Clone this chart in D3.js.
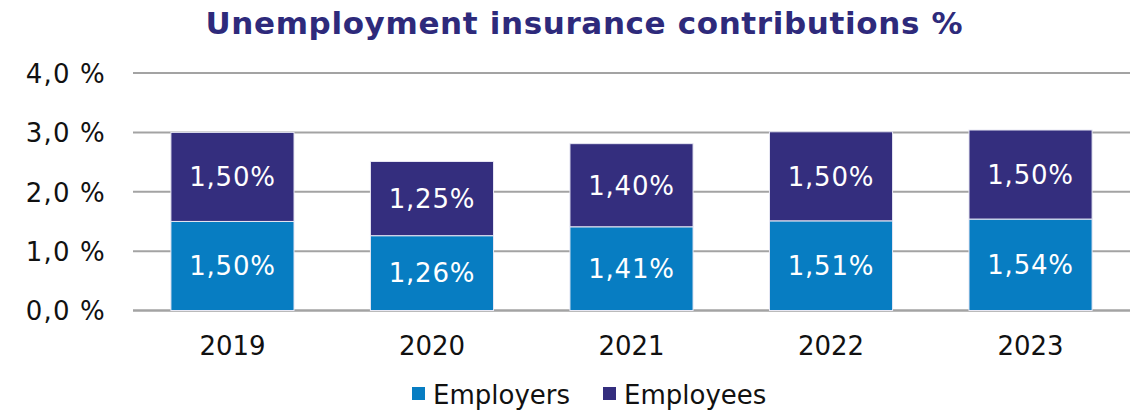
<!DOCTYPE html>
<html><head><meta charset="utf-8">
<script src="https://cdn.jsdelivr.net/npm/d3@7"></script>
<style>
html,body{margin:0;padding:0;background:#fff;}
svg{display:block;font-family:Verdana,"DejaVu Sans",sans-serif;}
</style></head>
<body>
<svg id="chart" width="1132" height="411"></svg>
<script>
const years = ["2019","2020","2021","2022","2023"];
const employers = [1.50, 1.26, 1.41, 1.51, 1.54];
const employees = [1.50, 1.25, 1.40, 1.50, 1.50];
const seriesNames = ["Employers","Employees"];
const seriesColors = ["#077dc2","#342e7e"];
const yTicks = [0,1,2,3,4];
const titleText = "Unemployment insurance contributions %";

const svg = d3.select("#chart");
const x = d3.scaleBand().domain(years).range([133,1130]).paddingInner(0.383).paddingOuter(0.19);
const y = d3.scaleLinear().domain([0,4]).range([310.5,73]);
const fmtTick = v => d3.format(".1f")(v).replace(".",",") + " %";
const fmtVal = v => d3.format(".2f")(v).replace(".",",") + "%";
const FONT = 'Verdana,"DejaVu Sans",sans-serif';

// title: keep glyph height, fit width with letter-spacing
const t = svg.append("text").attr("x",584).attr("y",34).attr("text-anchor","middle")
  .attr("fill","#2e2a7b").attr("font-weight","bold").attr("font-size",31).text(titleText);
const tw = t.node().getComputedTextLength();
if (tw > 0) {
  const ls = (757 - tw) / (titleText.length - 1);
  t.attr("letter-spacing", ls).attr("x", 584 + ls/2);
}

// y axis labels
const yAxis = d3.axisLeft(y).tickValues(yTicks).tickFormat(fmtTick).tickSize(0).tickPadding(0);
const gy = svg.append("g").attr("transform","translate(106,0)").call(yAxis);
gy.select(".domain").remove();
gy.selectAll("text").attr("font-size",26).attr("fill","#111").attr("font-family",FONT)
  .attr("dy","0.36em").attr("letter-spacing",1.2);

// gridlines
svg.append("g").selectAll("line").data(yTicks).join("line")
  .attr("x1",133).attr("x2",1130).attr("y1",d=>y(d)).attr("y2",d=>y(d))
  .attr("stroke","#a3a3a3").attr("stroke-width",d=>d===0?2.5:2);

// stacked bars
const rows = years.map((yr,i)=>({year:yr, Employers:employers[i], Employees:employees[i]}));
const stack = d3.stack().keys(seriesNames)(rows);
const g = svg.append("g");
stack.forEach((s,si)=>{
  g.append("g").selectAll("rect").data(s).join("rect")
    .attr("x",d=>x(d.data.year)).attr("width",x.bandwidth())
    .attr("y",d=>y(d[1])).attr("height",d=>y(d[0])-y(d[1]))
    .attr("fill",seriesColors[si]).attr("stroke","#e8e8f4").attr("stroke-width",1);
  g.append("g").selectAll("text").data(s).join("text")
    .attr("x",d=>x(d.data.year)+x.bandwidth()/2).attr("y",d=>(y(d[0])+y(d[1]))/2)
    .attr("dy","0.36em").attr("text-anchor","middle").attr("fill","#fff").attr("font-size",26)
    .attr("letter-spacing",0.8)
    .text(d=>fmtVal(d[1]-d[0]));
});

// x axis labels
const xAxis = d3.axisBottom(x).tickSize(0).tickPadding(0);
const gx = svg.append("g").attr("transform","translate(0,355)").call(xAxis);
gx.select(".domain").remove();
gx.selectAll("text").attr("font-size",26).attr("fill","#111").attr("font-family",FONT).attr("dy",0);

// legend
const legX = [412, 603];
const lg = svg.append("g");
seriesNames.forEach((n,i)=>{
  lg.append("rect").attr("x",legX[i]).attr("y",387).attr("width",13).attr("height",13).attr("fill",seriesColors[i]);
  lg.append("text").attr("x",legX[i]+21).attr("y",404).attr("font-size",26).attr("fill","#111").text(n);
});
</script>
</body></html>
